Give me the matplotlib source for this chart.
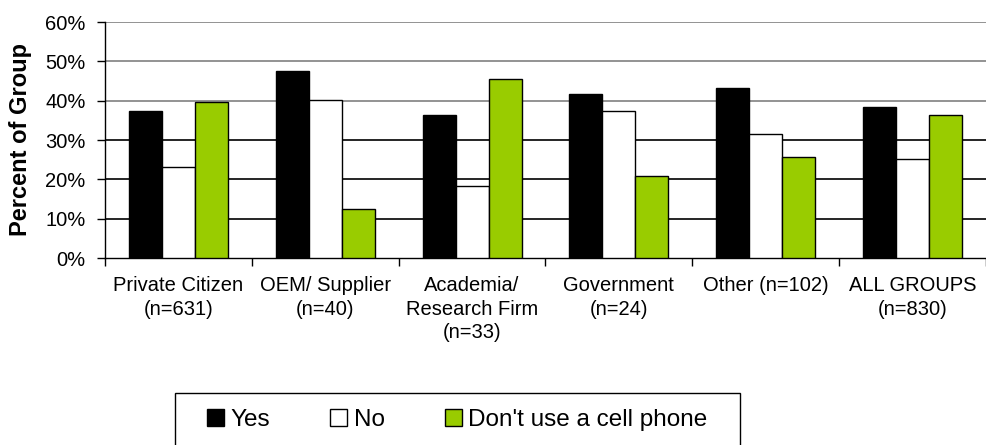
import matplotlib
matplotlib.use("Agg")
import matplotlib.pyplot as plt
import numpy as np
from matplotlib.patches import Patch, Rectangle

plt.rcParams["font.family"] = ["Liberation Sans", "DejaVu Sans"]

# === data ===
groups = ["Private Citizen\n(n=631)", "OEM/ Supplier\n(n=40)", "Academia/\nResearch Firm\n(n=33)",
          "Government\n(n=24)", "Other (n=102)", "ALL GROUPS\n(n=830)"]
yes = [37.4, 47.5, 36.4, 41.6, 43.1, 38.3]
no = [23.2, 40.2, 18.4, 37.3, 31.4, 25.1]
no_phone = [39.7, 12.5, 45.4, 20.8, 25.7, 36.3]
series_names = ["Yes", "No", "Don't use a cell phone"]
colors = ["black", "white", "#99CC00"]

fig = plt.figure(figsize=(9.86, 4.45), dpi=100)
ax = fig.add_axes([105 / 986, 1 - 258 / 445, 881 / 986, 236 / 445])

x = np.arange(len(groups))
w = 0.225
for i, (vals, c) in enumerate(zip([yes, no, no_phone], colors)):
    ax.bar(x + (i - 1) * w, vals, w, color=c, edgecolor="black", linewidth=1, zorder=3)

ax.set_xlim(-0.5, len(groups) - 0.5)
ax.set_ylim(0, 60)
ax.set_yticks(range(0, 61, 10))
ax.set_yticklabels([f"{v}%" for v in range(0, 61, 10)])
ax.set_xticks(x)
ax.set_xticklabels(groups, linespacing=1.3)
ax.set_xticks(np.arange(-0.5, len(groups)), minor=True)
ax.tick_params(axis="x", which="major", length=0, pad=13, labelsize=14.5)
ax.tick_params(axis="x", which="minor", length=6, width=1, color="black")
ax.tick_params(axis="y", length=6, width=1, pad=8, labelsize=14.5)

# gridlines
for v in range(10, 61, 10):
    ax.axhline(v, color="#808080" if v >= 40 else "black", linewidth=1.2, zorder=1)

for s in ["top", "right"]:
    ax.spines[s].set_visible(False)
ax.spines["left"].set_linewidth(1)
ax.spines["bottom"].set_linewidth(1)

fig.text(21 / 986, 1 - 140 / 445, "Percent of Group", rotation=90, ha="center", va="center",
         fontsize=17, fontweight="bold")

# legend
fig.patches.append(Rectangle((175 / 986, -0.05), 565 / 986, (445 - 393) / 445 + 0.05,
                             transform=fig.transFigure, fill=False, edgecolor="black", linewidth=1))
handles = [Patch(facecolor=c, edgecolor="black", linewidth=1) for c in colors]
fig.legend(handles, series_names, ncol=3, frameon=False, loc="center left",
           bbox_to_anchor=(207 / 986, 1 - 420 / 445), fontsize=17.5,
           handlelength=0.7, handleheight=0.7, handletextpad=0.25, columnspacing=2.5,
           borderpad=0, borderaxespad=0)

fig.savefig("out.png", dpi=100)
